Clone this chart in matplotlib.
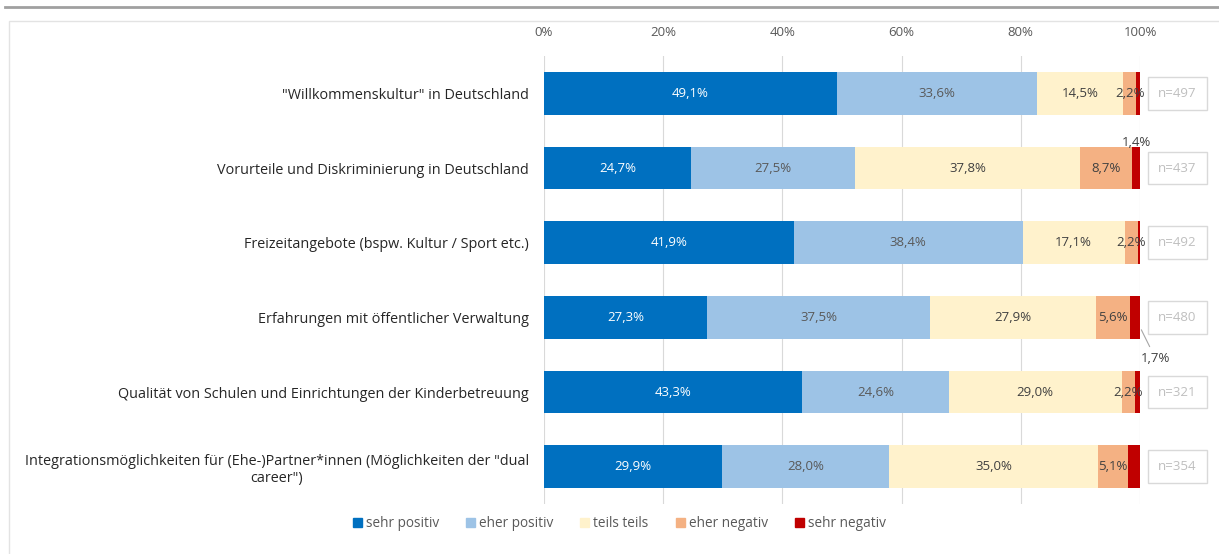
import numpy as np
import matplotlib.pyplot as plt
from matplotlib.lines import Line2D
from matplotlib.patches import Patch, Rectangle

plt.rcParams['font.family'] = ['Open Sans', 'DejaVu Sans']

categories = [
    '"Willkommenskultur" in Deutschland',
    'Vorurteile und Diskriminierung in Deutschland',
    'Freizeitangebote (bspw. Kultur / Sport etc.)',
    'Erfahrungen mit öffentlicher Verwaltung',
    'Qualität von Schulen und Einrichtungen der Kinderbetreuung',
    'Integrationsmöglichkeiten für (Ehe-)Partner*innen (Möglichkeiten der "dual\ncareer")',
]
series = ['sehr positiv', 'eher positiv', 'teils teils', 'eher negativ', 'sehr negativ']
sehr_positiv = [49.1, 24.7, 41.9, 27.3, 43.3, 29.9]
eher_positiv = [33.6, 27.5, 38.4, 37.5, 24.6, 28.0]
teils_teils = [14.5, 37.8, 17.1, 27.9, 29.0, 35.0]
eher_negativ = [2.2, 8.7, 2.2, 5.6, 2.2, 5.1]
sehr_negativ = [0.6, 1.4, 0.4, 1.7, 0.9, 2.0]
n_values = [497, 437, 492, 480, 321, 354]
ticks = [0, 20, 40, 60, 80, 100]

colors = ['#0070C0', '#9DC3E6', '#FFF2CC', '#F4B183', '#C00000']
text_colors = ['white', '#595959', '#404040', '#404040', '#404040']


def pct(v):
    return ('%.1f%%' % v).replace('.', ',')


fig = plt.figure(figsize=(12.19, 5.54), dpi=100)
ax = fig.add_axes([544 / 1219, 1 - 504 / 554, 596 / 1219, 448 / 554])

data = [sehr_positiv, eher_positiv, teils_teils, eher_negativ, sehr_negativ]
y = np.arange(len(categories))
left = np.zeros(len(categories))
for k, vals in enumerate(data):
    vals = np.array(vals)
    ax.barh(y, vals, left=left, height=0.575, color=colors[k], zorder=2)
    if k < 4:
        for i, v in enumerate(vals):
            ax.text(left[i] + v / 2, y[i], pct(v), ha='center', va='center',
                    fontsize=9.5, color=text_colors[k], zorder=3)
    left += vals

# labels for the small "sehr negativ" segments outside the bars
ax.text(99.4, 0.66, pct(sehr_negativ[1]), ha='center', va='center', fontsize=9.5, color='#404040')
ax.annotate(pct(sehr_negativ[3]), xy=(99.5, 3.05), xytext=(102.6, 3.55),
            ha='center', va='center', fontsize=9.5, color='#404040', annotation_clip=False,
            arrowprops=dict(arrowstyle='-', color='#A6A6A6', lw=0.8, shrinkB=7))

# n boxes
for i, n in enumerate(n_values):
    ax.text(106.3, y[i], 'n=%d' % n, ha='center', va='center', fontsize=9.5, color='#BFBFBF',
            clip_on=False,
            bbox=dict(boxstyle='square,pad=0.75', fc='white', ec='#D9D9D9', lw=1))

ax.set_xlim(0, 100)
ax.set_ylim(len(categories) - 0.5, -0.5)
ax.set_xticks(ticks)
ax.set_xticklabels(['%d%%' % t for t in ticks])
ax.xaxis.tick_top()
ax.set_yticks(y)
ax.set_yticklabels(categories, multialignment='center')
ax.tick_params(axis='x', length=0, pad=12, labelsize=9.5, labelcolor='#595959')
ax.tick_params(axis='y', length=0, pad=11, labelsize=10.4, labelcolor='#262626')
ax.grid(axis='x', color='#D9D9D9', lw=0.8, zorder=0)
for s in ax.spines.values():
    s.set_visible(False)

handles = [Patch(color=c, label=s) for c, s in zip(colors, series)]
fig.legend(handles=handles, loc='center', bbox_to_anchor=(0.508, 0.055), ncol=5, frameon=False,
           fontsize=9.8, handlelength=0.65, handleheight=0.65, handletextpad=0.3,
           columnspacing=2.0, labelcolor='#595959')

# frame lines
fig.add_artist(Line2D([5 / 1219, 1], [1 - 7 / 554, 1 - 7 / 554], color='#A0A0A0', lw=2))
fig.add_artist(Rectangle((9 / 1219, -0.01), 1.0, 1 - 21 / 554 + 0.01, fill=False,
                         ec='#E3E3E3', lw=1))

fig.savefig('out.png', dpi=100)
